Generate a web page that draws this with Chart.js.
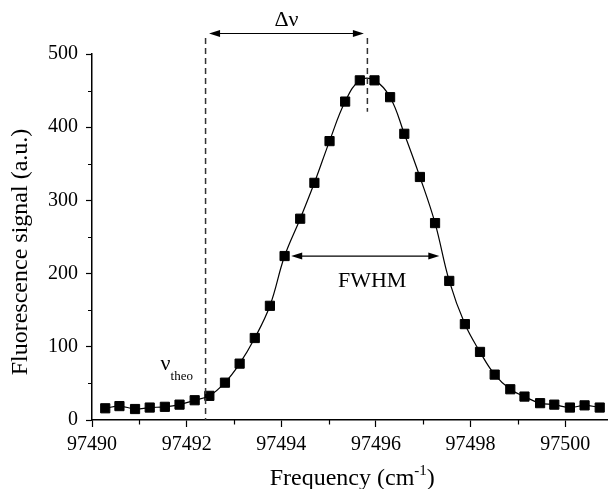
<!DOCTYPE html>
<html>
<head>
<meta charset="utf-8">
<script src="https://cdn.jsdelivr.net/npm/chart.js@4"></script>
<style>
  html, body { margin: 0; padding: 0; background: #fff; overflow: hidden; }
  #wrap { width: 620px; height: 489px; }
</style>
</head>
<body>
<div id="wrap"><canvas id="lineChart" width="620" height="489"></canvas></div>
<script>
// scan points: laser frequency (cm^-1) and fluorescence signal (a.u.)
const freq = [
  97490.28, 97490.58, 97490.91, 97491.22, 97491.54, 97491.85, 97492.17, 97492.48,
  97492.81, 97493.12, 97493.44, 97493.76, 97494.07, 97494.40, 97494.70, 97495.02,
  97495.35, 97495.66, 97495.97, 97496.30, 97496.60, 97496.93, 97497.25, 97497.55,
  97497.88, 97498.20, 97498.51, 97498.84, 97499.14, 97499.47, 97499.77, 97500.10,
  97500.41, 97500.73
];
const signal = [
  16, 19, 15, 17, 18, 21, 27, 33,
  51, 77, 112, 156, 224, 275, 324, 381,
  435, 464, 464, 441, 391, 332, 269, 190,
  131, 93, 62, 42, 32, 23, 21, 17,
  20, 17
];

const xRange = [97490, 97501];
const yRange = [0, 500];

// marked positions
const nuTheo = 97492.40;
const nuPeak = 97495.82;
const fwhmFrom = 97494.21;
const fwhmTo = 97497.34;
const fwhmLevel = 224;

const SERIF = "'Liberation Serif', 'Times New Roman', serif";

function arrow(ctx, x1, x2, y) {
  ctx.beginPath();
  ctx.moveTo(x1 + 9, y);
  ctx.lineTo(x2 - 9, y);
  ctx.stroke();
  ctx.beginPath();
  ctx.moveTo(x1, y); ctx.lineTo(x1 + 11, y - 3.5); ctx.lineTo(x1 + 11, y + 3.5); ctx.closePath();
  ctx.moveTo(x2, y); ctx.lineTo(x2 - 11, y - 3.5); ctx.lineTo(x2 - 11, y + 3.5); ctx.closePath();
  ctx.fill();
}

const markup = {
  id: 'markup',
  afterDraw(chart) {
    const { ctx, chartArea: area, scales: { x, y } } = chart;
    ctx.save();

    // minor ticks
    ctx.strokeStyle = '#000';
    ctx.lineWidth = 1.2;
    ctx.beginPath();
    for (let v = xRange[0] + 1; v <= xRange[1]; v += 2) {
      const px = Math.round(x.getPixelForValue(v)) + 0.5;
      ctx.moveTo(px, area.bottom);
      ctx.lineTo(px, area.bottom + 4.5);
    }
    for (let v = 50; v < yRange[1]; v += 100) {
      const py = Math.round(y.getPixelForValue(v)) + 0.5;
      ctx.moveTo(area.left - 4, py);
      ctx.lineTo(area.left, py);
    }
    ctx.stroke();

    // dashed guides at the theoretical and observed line centres
    ctx.strokeStyle = '#333';
    ctx.lineWidth = 1.5;
    ctx.setLineDash([6, 4]);
    const xt = x.getPixelForValue(nuTheo);
    const xp = x.getPixelForValue(nuPeak);
    const yTop = y.getPixelForValue(522);
    ctx.beginPath();
    ctx.moveTo(xt, yTop); ctx.lineTo(xt, area.bottom);
    ctx.moveTo(xp, yTop); ctx.lineTo(xp, y.getPixelForValue(421));
    ctx.stroke();
    ctx.setLineDash([]);

    // arrows
    ctx.strokeStyle = '#000';
    ctx.fillStyle = '#000';
    ctx.lineWidth = 1.2;
    arrow(ctx, xt + 3.5, xp - 3.5, y.getPixelForValue(528));
    arrow(ctx, x.getPixelForValue(fwhmFrom), x.getPixelForValue(fwhmTo), y.getPixelForValue(fwhmLevel));

    // labels
    ctx.fillStyle = '#000';
    ctx.textAlign = 'center';
    ctx.textBaseline = 'alphabetic';
    ctx.font = '22px ' + SERIF;
    ctx.fillText('Δν', (xt + xp) / 2, y.getPixelForValue(528) - 8);
    ctx.fillText('FWHM', x.getPixelForValue(97495.92), y.getPixelForValue(193) + 8);

    ctx.textAlign = 'left';
    ctx.font = '22px ' + SERIF;
    const nx = x.getPixelForValue(97491.45);
    ctx.fillText('ν', nx, y.getPixelForValue(68));
    const nw = ctx.measureText('ν').width;
    ctx.font = '13px ' + SERIF;
    ctx.fillText('theo', nx + nw, y.getPixelForValue(54));

    // axis titles
    ctx.font = '24px ' + SERIF;
    const t1 = 'Frequency (cm', t3 = ')';
    const w1 = ctx.measureText(t1).width, w3 = ctx.measureText(t3).width;
    ctx.font = '15px ' + SERIF;
    const w2 = ctx.measureText('-1').width;
    const cx = (area.left + area.right) / 2;
    let tx = cx - (w1 + w2 + w3) / 2;
    const base = 485;
    ctx.font = '24px ' + SERIF;
    ctx.fillText(t1, tx, base);
    ctx.font = '15px ' + SERIF;
    ctx.fillText('-1', tx + w1, base - 10);
    ctx.font = '24px ' + SERIF;
    ctx.fillText(t3, tx + w1 + w2, base);

    ctx.translate(21, 252);
    ctx.rotate(-Math.PI / 2);
    ctx.textAlign = 'center';
    ctx.textBaseline = 'middle';
    ctx.fillText('Fluorescence signal (a.u.)', 0, 0);

    ctx.restore();
  }
};

new Chart(document.getElementById('lineChart'), {
  type: 'line',
  data: {
    datasets: [{
      data: freq.map((f, i) => ({ x: f, y: signal[i] })),
      borderColor: '#000',
      borderWidth: 1.2,
      tension: 0.4,
      pointStyle: 'rect',
      pointRadius: 6.5,
      pointBorderWidth: 1,
      pointBackgroundColor: '#000',
      pointBorderColor: '#000',
      clip: false
    }]
  },
  options: {
    responsive: false,
    animation: false,
    events: [],
    layout: { padding: { top: 54, right: 4, bottom: 0, left: 0 } },
    plugins: { legend: { display: false }, tooltip: { enabled: false } },
    scales: {
      x: {
        type: 'linear',
        min: xRange[0],
        max: xRange[1],
        afterFit(scale) { scale.height = 69; },
        border: { color: '#000', width: 1.5 },
        grid: {
          drawOnChartArea: false,
          tickLength: 7,
          tickWidth: 1.2,
          tickColor: c => (c.tick && c.tick.value % 2 === 0) ? '#000' : 'rgba(0,0,0,0)'
        },
        ticks: {
          stepSize: 1,
          autoSkip: false,
          maxRotation: 0,
          padding: 6,
          color: '#000',
          font: { family: SERIF, size: 20 },
          callback: v => (v % 2 === 0 ? String(v) : '')
        }
      },
      y: {
        min: yRange[0],
        max: yRange[1],
        afterFit(scale) { scale.width = 92; },
        border: { color: '#000', width: 1.5 },
        grid: {
          drawOnChartArea: false,
          tickLength: 6,
          tickWidth: 1.2,
          tickColor: c => (c.tick && c.tick.value % 100 === 0) ? '#000' : 'rgba(0,0,0,0)'
        },
        ticks: {
          stepSize: 50,
          autoSkip: false,
          padding: 8,
          color: '#000',
          font: { family: SERIF, size: 20 },
          callback: v => (v % 100 === 0 ? String(v) : '')
        }
      }
    }
  },
  plugins: [markup]
});
</script>
</body>
</html>
